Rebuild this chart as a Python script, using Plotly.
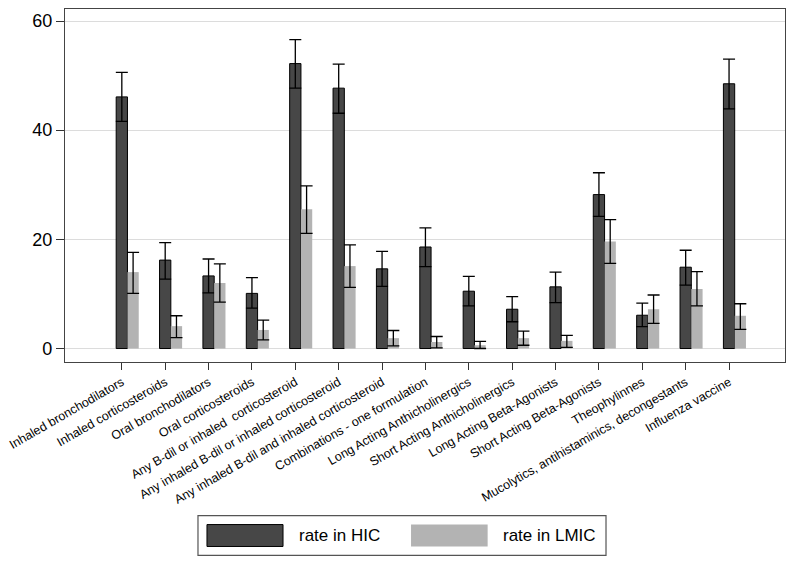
import plotly.graph_objects as go

categories = [
    "Inhaled bronchodilators",
    "Inhaled corticosteroids",
    "Oral bronchodilators",
    "Oral corticosteroids",
    "Any B-dil or inhaled  corticosteroid",
    "Any inhaled B-dil or inhaled corticosteroid",
    "Any inhaled B-dil and inhaled corticosteroid",
    "Combinations - one formulation",
    "Long Acting Anthicholinergics",
    "Short Acting Anthicholinergics",
    "Long Acting Beta-Agonists",
    "Short Acting Beta-Agonists",
    "Theophylinnes",
    "Mucolytics, antihistaminics, decongestants",
    "Influenza vaccine",
]

hic_rate = [46.1, 16.2, 13.3, 10.1, 52.2, 47.7, 14.6, 18.6, 10.5, 7.2, 11.3, 28.2, 6.1, 14.9, 48.5]
hic_upper = [50.6, 19.4, 16.4, 13.0, 56.6, 52.1, 17.8, 22.1, 13.2, 9.5, 14.0, 32.2, 8.3, 18.0, 53.0]
hic_lower = [41.6, 12.7, 10.2, 7.4, 47.7, 43.1, 11.4, 15.0, 7.8, 4.9, 8.4, 24.2, 4.0, 11.6, 43.9]

lmic_rate = [14.0, 4.1, 12.0, 3.4, 25.5, 15.1, 1.9, 1.2, 0.6, 1.9, 1.4, 19.6, 7.2, 10.9, 6.0]
lmic_upper = [17.6, 6.0, 15.5, 5.2, 29.8, 19.0, 3.3, 2.2, 1.3, 3.2, 2.4, 23.6, 9.8, 14.1, 8.2]
lmic_lower = [10.1, 2.0, 8.5, 1.6, 21.1, 11.2, 0.5, 0.1, 0.0, 0.6, 0.2, 15.6, 4.6, 7.8, 3.5]

y_ticks = [0, 20, 40, 60]

HIC_COLOR = "#474747"
LMIC_COLOR = "#b3b3b3"
FONT = "Liberation Sans, Arial, sans-serif"
BW = 0.26

fig = go.Figure()
fig.add_trace(go.Bar(
    name="rate in HIC", x=categories, y=hic_rate,
    width=BW, offset=-BW / 2,
    marker=dict(color=HIC_COLOR, line=dict(color="#000000", width=1)),
    error_y=dict(type="data", symmetric=False,
                 array=[u - v for u, v in zip(hic_upper, hic_rate)],
                 arrayminus=[v - l for v, l in zip(hic_rate, hic_lower)],
                 color="#000000", thickness=1.3, width=6),
))
fig.add_trace(go.Bar(
    name="rate in LMIC", x=categories, y=lmic_rate,
    width=BW, offset=BW / 2,
    marker=dict(color=LMIC_COLOR, line=dict(width=0)),
    error_y=dict(type="data", symmetric=False,
                 array=[u - v for u, v in zip(lmic_upper, lmic_rate)],
                 arrayminus=[v - l for v, l in zip(lmic_rate, lmic_lower)],
                 color="#000000", thickness=1.3, width=6),
))

# manual legend (wide swatches as in the reference)
legend_shapes = [
    dict(type="rect", xref="paper", yref="paper", x0=0.1847, x1=0.7514, y0=-0.435, y1=-0.548,
         line=dict(color="#555555", width=1.2), fillcolor="white"),
    dict(type="rect", xref="paper", yref="paper", x0=0.1972, x1=0.3028, y0=-0.4605, y1=-0.5226,
         line=dict(color="#000000", width=1), fillcolor=HIC_COLOR),
    dict(type="rect", xref="paper", yref="paper", x0=0.4806, x1=0.587, y0=-0.4605, y1=-0.5226,
         line=dict(width=0), fillcolor=LMIC_COLOR),
]
legend_ann = [
    dict(text="rate in HIC", xref="paper", yref="paper", x=0.3222, y=-0.4915,
         xanchor="left", yanchor="middle", showarrow=False, font=dict(size=17, color="#000", family=FONT)),
    dict(text="rate in LMIC", xref="paper", yref="paper", x=0.605, y=-0.4915,
         xanchor="left", yanchor="middle", showarrow=False, font=dict(size=17, color="#000", family=FONT)),
]

# the page body adds an 8px offset, so the figure is sized 792x558
fig.update_layout(
    width=792, height=558,
    margin=dict(l=57, r=15, t=1, b=204),
    paper_bgcolor="white", plot_bgcolor="white",
    barmode="overlay",
    showlegend=False,
    font=dict(family=FONT, color="#000000"),
    shapes=legend_shapes,
    annotations=legend_ann,
)
fig.update_xaxes(
    type="category", range=[-1.31, 15.29], automargin=False,
    tickangle=-30, tickfont=dict(size=12.5, family=FONT, color="#000"),
    ticks="outside", ticklen=7, tickcolor="#333", tickwidth=1.2,
    showline=True, linecolor="#444", linewidth=1.2, mirror=True,
    showgrid=False, zeroline=False,
)
fig.update_yaxes(
    range=[-2.47, 62.2], tickvals=y_ticks, automargin=False,
    tickfont=dict(size=18, family=FONT, color="#000"),
    ticks="outside", ticklen=8, tickcolor="#333", tickwidth=1.2,
    showline=True, linecolor="#444", linewidth=1.2, mirror=True,
    showgrid=True, gridcolor="#dcdcdc", gridwidth=1, zeroline=False,
)

fig.write_html("out.html")
